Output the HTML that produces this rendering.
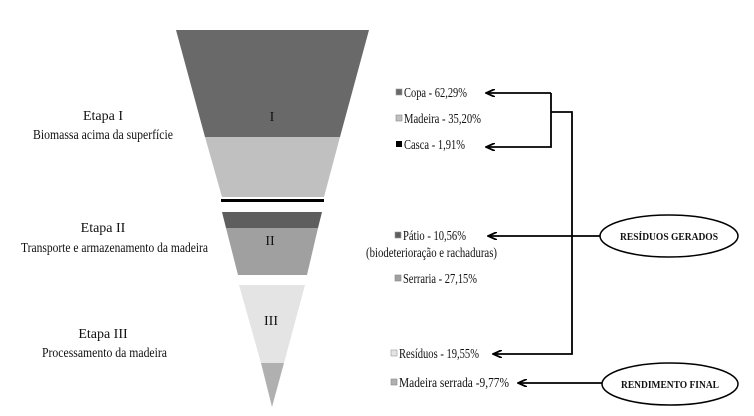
<!DOCTYPE html>
<html><head><meta charset="utf-8"><style>
body{margin:0;background:#fff}
svg{display:block}
</style></head><body>
<svg width="754" height="416" viewBox="0 0 754 416" xmlns="http://www.w3.org/2000/svg" font-family="Liberation Serif, DejaVu Serif, serif" font-size="14" fill="#111">
<defs><marker id="ah" markerWidth="10" markerHeight="8" refX="9" refY="4" orient="auto" markerUnits="userSpaceOnUse"><path d="M0,0 L9,4 L0,8" fill="none" stroke="#000" stroke-width="1.8"/></marker></defs>
<polygon points="176,30 369,30 340,137 205,137" fill="#696969"/>
<polygon points="205,137 340,137 324,197 222,197" fill="#c0c0c0"/>
<rect x="221" y="199" width="103" height="3" fill="#000"/>
<polygon points="222,212 322,212 318,228 226,228" fill="#5e5e5e"/>
<polygon points="226,228 318,228 307,275 238,275" fill="#a0a0a0"/>
<polygon points="239,285 305,285 284,363 261,363" fill="#e4e4e4"/>
<polygon points="261,363 284,363 272,407" fill="#b0b0b0"/>
<text x="272" y="121" text-anchor="middle">I</text>
<text x="270" y="245" text-anchor="middle">II</text>
<text x="271" y="325" text-anchor="middle">III</text>
<text x="103" y="120" text-anchor="middle">Etapa I</text>
<text x="33" y="139" textLength="140" lengthAdjust="spacingAndGlyphs">Biomassa acima da superfície</text>
<text x="103" y="232" text-anchor="middle">Etapa II</text>
<text x="21" y="252" textLength="187" lengthAdjust="spacingAndGlyphs">Transporte e armazenamento da madeira</text>
<text x="103" y="338" text-anchor="middle">Etapa III</text>
<text x="42" y="357" textLength="125" lengthAdjust="spacingAndGlyphs">Processamento da madeira</text>
<rect x="396" y="89" width="6" height="6" fill="#696969" stroke="#999" stroke-width="0.6"/>
<text x="404" y="97" textLength="63" lengthAdjust="spacingAndGlyphs">Copa - 62,29%</text>
<rect x="396" y="115" width="6" height="6" fill="#c0c0c0" stroke="#888" stroke-width="0.6"/>
<text x="404" y="123" textLength="77" lengthAdjust="spacingAndGlyphs">Madeira - 35,20%</text>
<rect x="396" y="141" width="6" height="6" fill="#000"/>
<text x="404" y="149" textLength="61" lengthAdjust="spacingAndGlyphs">Casca - 1,91%</text>
<rect x="395" y="232" width="6" height="6" fill="#5e5e5e" stroke="#999" stroke-width="0.6"/>
<text x="403" y="240" textLength="63" lengthAdjust="spacingAndGlyphs">Pátio - 10,56%</text>
<text x="366" y="257" textLength="131" lengthAdjust="spacingAndGlyphs">(biodeterioração e rachaduras)</text>
<rect x="395" y="275" width="6" height="6" fill="#a0a0a0" stroke="#888" stroke-width="0.6"/>
<text x="403" y="283" textLength="74" lengthAdjust="spacingAndGlyphs">Serraria - 27,15%</text>
<rect x="391" y="350" width="6" height="6" fill="#e4e4e4" stroke="#999" stroke-width="0.6"/>
<text x="399" y="358" textLength="80" lengthAdjust="spacingAndGlyphs">Resíduos - 19,55%</text>
<rect x="391" y="379" width="6" height="6" fill="#b0b0b0" stroke="#888" stroke-width="0.6"/>
<text x="399" y="387" textLength="110" lengthAdjust="spacingAndGlyphs">Madeira serrada -9,77%</text>
<g fill="none" stroke="#000" stroke-width="1.8">
<polyline points="551,93 486,93" marker-end="url(#ah)"/>
<polyline points="551,93 551,147 486,147" marker-end="url(#ah)"/>
<polyline points="551,112 572,112 572,354 493,354" marker-end="url(#ah)"/>
<polyline points="600,236 488,236" marker-end="url(#ah)"/>
<polyline points="602,383 518,383" marker-end="url(#ah)"/>
<ellipse cx="669" cy="236" rx="69" ry="21" stroke-width="1.5"/>
<ellipse cx="670" cy="384" rx="68" ry="21" stroke-width="1.5"/>
</g>
<text x="669" y="240" text-anchor="middle" font-weight="bold" font-size="10" textLength="98" lengthAdjust="spacingAndGlyphs">RESÍDUOS GERADOS</text>
<text x="670" y="388" text-anchor="middle" font-weight="bold" font-size="10" textLength="98" lengthAdjust="spacingAndGlyphs">RENDIMENTO FINAL</text>
</svg>
</body></html>
